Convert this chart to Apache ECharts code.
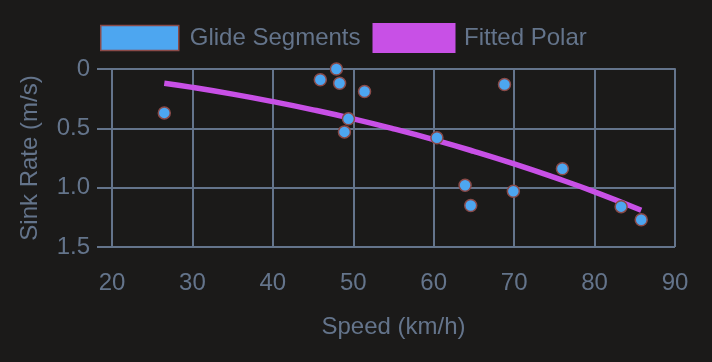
<!DOCTYPE html>
<html>
<head>
<meta charset="utf-8">
<script src="https://cdn.jsdelivr.net/npm/echarts@6/dist/echarts.min.js"></script>
<style>
html,body{margin:0;padding:0;background:#1b1a19;}
#chart{width:712px;height:362px;}
</style>
</head>
<body>
<div id="chart"></div>
<script>
const seriesNames = ['Glide Segments', 'Fitted Polar'];
const glideSpeed = [26.5, 45.9, 47.9, 48.3, 51.4, 49.4, 48.9, 68.8, 60.4, 76.0, 63.9, 69.9, 64.6, 83.3, 85.8];
const glideSink  = [0.37, 0.09, 0.00, 0.12, 0.19, 0.42, 0.53, 0.13, 0.58, 0.84, 0.98, 1.03, 1.15, 1.16, 1.27];
const polarSpeed = [26.5, 30, 35, 40, 45, 50, 55, 60, 65, 70, 75, 80, 85.8];
const polarSink  = [0.12, 0.155, 0.212, 0.275, 0.344, 0.42, 0.504, 0.595, 0.694, 0.80, 0.914, 1.035, 1.19];
const xTicks = [20, 30, 40, 50, 60, 70, 80, 90];
const yTicks = ['0', '0.5', '1.0', '1.5'];

const txt = '#64748b';
const fontFamily = '"Liberation Sans", Arial, Helvetica, sans-serif';
const chart = echarts.init(document.getElementById('chart'));
chart.setOption({
  backgroundColor: '#1b1a19',
  animation: false,
  textStyle: { fontFamily: fontFamily },
  legend: {
    top: 18,
    left: 95,
    itemWidth: 78,
    itemHeight: 25,
    itemGap: 12,
    icon: 'rect',
    textStyle: { color: txt, fontSize: 24, fontFamily: fontFamily, padding: [0, 0, 0, 6] },
    data: [
      { name: seriesNames[0], itemStyle: { color: '#4da6f0', borderColor: '#8a4a48', borderWidth: 1.5, opacity: 1 } },
      { name: seriesNames[1], itemStyle: { color: '#c850e6', borderColor: '#c850e6', borderWidth: 5 } }
    ]
  },
  grid: { left: 112, right: 37, top: 69, bottom: 115 },
  xAxis: {
    type: 'value',
    min: xTicks[0],
    max: xTicks[xTicks.length - 1],
    interval: 10,
    name: 'Speed (km/h)',
    nameLocation: 'middle',
    nameGap: 68,
    nameTextStyle: { color: txt, fontSize: 24, fontFamily: fontFamily },
    axisLine: { show: true, lineStyle: { color: txt, width: 2 } },
    axisTick: { show: true, length: 15, lineStyle: { color: txt, width: 2 } },
    axisLabel: { color: txt, fontSize: 24, margin: 24, fontFamily: fontFamily },
    splitLine: { show: true, lineStyle: { color: txt, width: 2 } }
  },
  yAxis: {
    type: 'value',
    inverse: true,
    min: 0,
    max: 1.5,
    interval: 0.5,
    name: 'Sink Rate (m/s)',
    nameLocation: 'middle',
    nameGap: 70,
    nameTextStyle: { color: txt, fontSize: 24, fontFamily: fontFamily },
    axisLine: { show: true, lineStyle: { color: txt, width: 2 } },
    axisTick: { show: true, length: 15, lineStyle: { color: txt, width: 2 } },
    axisLabel: {
      color: txt, fontSize: 24, margin: 22, fontFamily: fontFamily,
      formatter: function (v) { return yTicks[Math.round(v / 0.5)]; }
    },
    splitLine: { show: true, lineStyle: { color: txt, width: 2 } }
  },
  series: [
    {
      name: seriesNames[1],
      type: 'line',
      smooth: true,
      showSymbol: false,
      z: 1,
      color: '#c850e6',
      lineStyle: { color: '#c850e6', width: 5.5 },
      data: polarSpeed.map((s, i) => [s, polarSink[i]])
    },
    {
      name: seriesNames[0],
      type: 'scatter',
      z: 3,
      symbolSize: 12,
      color: '#4da6f0',
      itemStyle: { color: '#4da6f0', borderColor: '#8a4a48', borderWidth: 1.5, opacity: 1 },
      data: glideSpeed.map((s, i) => [s, glideSink[i]])
    }
  ]
});
</script>
</body>
</html>
